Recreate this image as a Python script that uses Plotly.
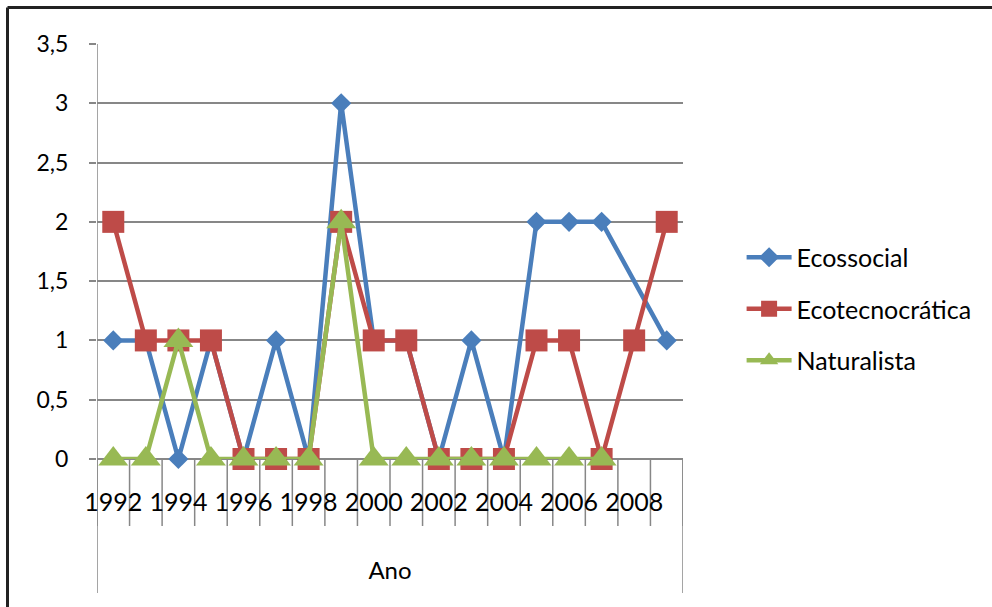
import plotly.graph_objects as go

years = list(range(1992, 2010))
ecossocial = [1, 1, 0, 1, 0, 1, 0, 3, 1, 1, 0, 1, 0, 2, 2, 2, None, 1]
ecotecnocratica = [2, 1, 1, 1, 0, 0, 0, 2, 1, 1, 0, 0, 0, 1, 1, 0, 1, 2]
naturalista = [0, 0, 1, 0, 0, 0, 0, 2, 0, 0, 0, 0, 0, 0, 0, 0, None, None]
series_names = ["Ecossocial", "Ecotecnocrática", "Naturalista"]
colors = ["#4A7EBB", "#BE4B48", "#98B954"]
symbols = ["diamond", "square", "triangle-up"]
sizes = [15.5, 22, 26]
x_title = "Ano"

W, H = 992, 607
L, R, T, B = 97, 309, 44, 148
pw, ph = W - L - R, H - T - B
FONT = "Lato"
GRID = "#878787"

fig = go.Figure()
for name, vals, c, s, sz, g in zip(series_names, [ecossocial, ecotecnocratica, naturalista],
                                   colors, symbols, sizes, ["a", "b", "c"]):
    fig.add_trace(go.Scatter(
        x=years, y=vals, name=name, mode="lines+markers", connectgaps=True,
        cliponaxis=False,
        line=dict(color=c, width=4.5), legendgroup=g,
        marker=dict(symbol=s, size=sz, color=c, line=dict(width=0)),
    ))

# category boundary tick lines and extended frame lines of the axis area
shapes = []
tick_depth = 67 / ph
for i in range(len(years) + 1):
    xb = years[0] - 0.5 + i
    shapes.append(dict(type="line", xref="x", yref="paper", x0=xb, x1=xb, y0=0, y1=-tick_depth,
                       line=dict(color=GRID, width=1.5), layer="below"))
ext = 134 / ph
shapes.append(dict(type="line", xref="x", yref="paper", x0=years[0] - 0.5, x1=years[0] - 0.5,
                   y0=1, y1=-ext, line=dict(color=GRID, width=1.5), layer="below"))
shapes.append(dict(type="line", xref="x", yref="paper", x0=years[-1] + 0.5, x1=years[-1] + 0.5,
                   y0=0, y1=-ext, line=dict(color=GRID, width=1.5), layer="below"))
# outer chart border (left and top)
fx = (7.5 - L) / pw
fy = (H - 7.5 - B) / ph
shapes.append(dict(type="line", xref="paper", yref="paper", x0=fx, x1=fx, y0=fy, y1=-B / ph,
                   line=dict(color="#222222", width=3)))
shapes.append(dict(type="line", xref="paper", yref="paper", x0=fx, x1=(W - L) / pw, y0=fy, y1=fy,
                   line=dict(color="#222222", width=3)))

fig.update_layout(
    width=W, height=H,
    margin=dict(l=L, r=R, t=T, b=B),
    paper_bgcolor="white", plot_bgcolor="white",
    separators=", ",
    font=dict(family=FONT, color="black"),
    shapes=shapes,
    showlegend=True,
    legend=dict(x=1.1, y=(459 - 309) / ph, xanchor="left", yanchor="middle",
                font=dict(size=25, family=FONT), tracegroupgap=16,
                bgcolor="rgba(0,0,0,0)", itemwidth=45),
    xaxis=dict(
        range=[years[0] - 0.5, years[-1] + 0.5],
        tickmode="array", tickvals=years[::2], ticktext=[str(y) for y in years[::2]],
        ticks="outside", ticklen=0, tickcolor="rgba(0,0,0,0)", ticklabelstandoff=21,
        tickfont=dict(size=25, family=FONT),
        showgrid=False, zeroline=False, showline=False,
        title=dict(text=x_title, font=dict(size=24, family=FONT), standoff=47),
    ),
    yaxis=dict(
        range=[0, 3.5], dtick=0.5, tick0=0,
        ticks="outside", ticklen=7, tickcolor=GRID, tickwidth=1.5,
        ticklabelstandoff=16,
        tickfont=dict(size=23, family=FONT),
        showgrid=True, gridcolor=GRID, gridwidth=1.5,
        zeroline=True, zerolinecolor=GRID, zerolinewidth=1.5,
        showline=False,
    ),
)

fig.write_html("out.html", config={"displayModeBar": False},
               post_script="document.body.style.margin='0px';")
